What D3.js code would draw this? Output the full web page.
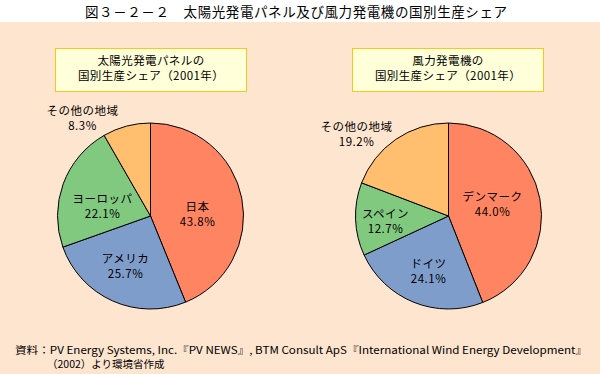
<!DOCTYPE html>
<html>
<head>
<meta charset="utf-8">
<script src="https://cdn.jsdelivr.net/npm/d3@7"></script>
<style>
  body { margin: 0; background: #fff; }
  text { font-family: "Noto Sans CJK JP", "Noto Sans", sans-serif; fill: #000; }
</style>
</head>
<body>
<div id="chart"></div>
<script>
// data
var titleText = "図３－２－２　太陽光発電パネル及び風力発電機の国別生産シェア";
var pvTitle = ["太陽光発電パネルの", "国別生産シェア（2001年）"];
var pvNames = ["日本", "アメリカ", "ヨーロッパ", "その他の地域"];
var pvValues = [43.8, 25.7, 22.1, 8.3];
var windTitle = ["風力発電機の", "国別生産シェア（2001年）"];
var windNames = ["デンマーク", "ドイツ", "スペイン", "その他の地域"];
var windValues = [44.0, 24.1, 12.7, 19.2];
var sourceLines = [
  "資料：PV Energy Systems, Inc.『PV NEWS』, BTM Consult ApS『International Wind Energy Development』",
  "（2002）より環境省作成"
];

var colors = ["#ff8462", "#7f9dca", "#80c97f", "#ffbf6f"];

var W = 600, H = 374;
var svg = d3.select("#chart").append("svg")
  .attr("width", W)
  .attr("height", H);

svg.append("rect").attr("x", 0).attr("y", 22).attr("width", W).attr("height", H - 22)
  .attr("fill", "#fee5cf");

svg.append("text")
  .attr("x", 296).attr("y", 17)
  .attr("text-anchor", "middle")
  .attr("font-size", 13.5)
  .attr("textLength", 422)
  .attr("lengthAdjust", "spacing")
  .text(titleText);

var pie = d3.pie().sort(null).value(d => d);
var arc = d3.arc().innerRadius(0).outerRadius(93);

// label positions relative to pie centre (dx, dy of first line)
var pvLabelPos = [[47, -9], [-25, 43], [-48, -17], [-68, -105]];
var windLabelPos = [[44, -19], [-20, 48], [-63, -2], [-92, -89]];

function drawPanel(cx, boxX, titleLines, names, values, labelPos) {
  var g = svg.append("g");

  // title box
  g.append("rect")
    .attr("x", boxX).attr("y", 48.5)
    .attr("width", 191).attr("height", 43)
    .attr("fill", "#ffffd9")
    .attr("stroke", "#f7c71c")
    .attr("stroke-width", 1);

  g.selectAll(".bt").data(titleLines).join("text")
    .attr("x", boxX + 95.5)
    .attr("y", (d, i) => 65 + i * 15)
    .attr("text-anchor", "middle")
    .attr("font-size", 11.5)
    .attr("letter-spacing", 0.4)
    .text(d => d);

  var pg = g.append("g").attr("transform", "translate(" + cx + ",216)");
  var arcs = pie(values);
  pg.selectAll("path").data(arcs).join("path")
    .attr("d", arc)
    .attr("fill", (d, i) => colors[i])
    .attr("stroke", "#000")
    .attr("stroke-width", 1);

  var lbl = pg.selectAll("g.lbl").data(arcs).join("g")
    .attr("class", "lbl")
    .attr("transform", (d, i) => "translate(" + labelPos[i][0] + "," + labelPos[i][1] + ")");
  lbl.append("text")
    .attr("text-anchor", "middle")
    .attr("y", 4)
    .attr("font-size", 11.5)
    .attr("letter-spacing", 0.5)
    .text((d, i) => names[i]);
  lbl.append("text")
    .attr("text-anchor", "middle")
    .attr("y", 19)
    .attr("font-size", 11.5)
    .attr("letter-spacing", 0.5)
    .text(d => d.data.toFixed(1) + "%");
}

drawPanel(150.5, 55.5, pvTitle, pvNames, pvValues, pvLabelPos);
drawPanel(448.5, 352.5, windTitle, windNames, windValues, windLabelPos);

svg.selectAll(".src").data(sourceLines).join("text")
  .attr("x", (d, i) => i === 0 ? 15 : 47)
  .attr("y", (d, i) => 354 + i * 14)
  .attr("font-size", 10.5)
  .attr("textLength", (d, i) => i === 0 ? 572 : null)
  .attr("lengthAdjust", "spacingAndGlyphs")
  .text(d => d);
</script>
</body>
</html>
